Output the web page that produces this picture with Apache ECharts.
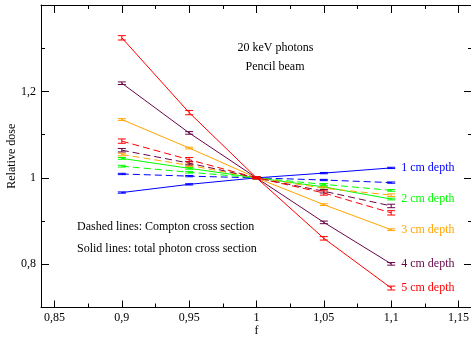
<!DOCTYPE html>
<html><head><meta charset="utf-8">
<script src="https://cdn.jsdelivr.net/npm/echarts@6/dist/echarts.min.js"></script>
<style>html,body{margin:0;padding:0;background:#fff}#c{width:471px;height:337px}</style>
</head><body><div id="c"></div>
<script>
const f = [0.9, 0.95, 1.0, 1.05, 1.1];
const depths = ['1 cm depth', '2 cm depth', '3 cm depth', '4 cm depth', '5 cm depth'];
const colors = ['#0000ff', '#00ff00', '#ffa500', '#670748', '#ff0000'];
// solid lines: total photon cross section
const totalDose = [
  [0.966, 0.985, 1.0, 1.011, 1.023],
  [1.045, 1.022, 1.0, 0.979, 0.951],
  [1.135, 1.069, 1.0, 0.938, 0.880],
  [1.219, 1.104, 1.0, 0.897, 0.801],
  [1.324, 1.151, 1.0, 0.860, 0.745]
];
const totalErr = [
  [0.0015, 0.0015, 0.0015, 0.0015, 0.0015],
  [0.002, 0.002, 0.002, 0.002, 0.002],
  [0.002, 0.002, 0.002, 0.002, 0.002],
  [0.003, 0.003, 0.002, 0.003, 0.003],
  [0.005, 0.005, 0.002, 0.004, 0.0045]
];
// dashed lines: Compton cross section
const comptonDose = [
  [1.009, 1.004, 1.0, 0.995, 0.989],
  [1.027, 1.013, 1.0, 0.985, 0.971],
  [1.054, 1.029, 1.0, 0.976, 0.960],
  [1.064, 1.034, 1.0, 0.969, 0.935],
  [1.085, 1.042, 1.0, 0.965, 0.919]
];
const comptonErr = [
  [0.0015, 0.0015, 0.0015, 0.0015, 0.0015],
  [0.002, 0.002, 0.002, 0.002, 0.002],
  [0.003, 0.003, 0.002, 0.003, 0.003],
  [0.004, 0.004, 0.002, 0.004, 0.004],
  [0.005, 0.005, 0.002, 0.005, 0.005]
];
const xTicks = [0.85, 0.9, 0.95, 1, 1.05, 1.1, 1.15];
const xMinor = [0.875, 0.925, 0.975, 1.025, 1.075, 1.125];
const yTicks = [0.8, 1.0, 1.2];
const yMinor = [0.7, 0.9, 1.1, 1.3];

const FONT = '"Liberation Serif", "DejaVu Serif", serif';
const fmt = v => String(+(+v).toFixed(3)).replace('.', ',');
const axisLine = {show: true, lineStyle: {color: '#000', width: 1}};

function xAx(pos, ticks, len, labels, extra) {
  return Object.assign({
    type: 'value', position: pos, min: 0.84, max: 1.16,
    axisLine: labels === null ? {show: false} : axisLine,
    axisTick: {show: true, inside: true, length: len, customValues: ticks, lineStyle: {color: '#000'}},
    axisLabel: labels ? {show: true, customValues: labels, formatter: fmt, margin: 4,
      color: '#000', fontFamily: FONT, fontSize: 12} : {show: false},
    splitLine: {show: false}
  }, extra || {});
}
function yAx(pos, ticks, len, labels, extra) {
  return Object.assign({
    type: 'value', position: pos, min: 0.7, max: 1.4,
    axisLine: labels === null ? {show: false} : axisLine,
    axisTick: {show: true, inside: true, length: len, customValues: ticks, lineStyle: {color: '#000'}},
    axisLabel: labels ? {show: true, customValues: labels, formatter: fmt, margin: 5,
      color: '#000', fontFamily: FONT, fontSize: 12} : {show: false},
    splitLine: {show: false}
  }, extra || {});
}

function errSeries(vals, errs, color, z) {
  return {
    type: 'custom', xAxisIndex: 0, yAxisIndex: 0, z: z, silent: true, animation: false,
    encode: {x: 0, y: [1, 2]},
    data: f.map((x, i) => [x, vals[i] - errs[i], vals[i] + errs[i]]),
    renderItem: (params, api) => {
      const lo = api.coord([api.value(0), api.value(1)]);
      const hi = api.coord([api.value(0), api.value(2)]);
      const w = 4;
      const st = {stroke: color, lineWidth: 1};
      return {type: 'group', children: [
        {type: 'line', shape: {x1: lo[0], y1: lo[1], x2: hi[0], y2: hi[1]}, style: st},
        {type: 'line', shape: {x1: lo[0] - w, y1: lo[1], x2: lo[0] + w, y2: lo[1]}, style: st},
        {type: 'line', shape: {x1: hi[0] - w, y1: hi[1], x2: hi[0] + w, y2: hi[1]}, style: st}
      ]};
    }
  };
}

const series = [];
for (let i = 0; i < 5; i++) {
  series.push({
    type: 'line', name: depths[i] + ' Compton', xAxisIndex: 0, yAxisIndex: 0,
    data: f.map((x, j) => [x, comptonDose[i][j]]), symbol: 'none', z: 2 + i,
    lineStyle: {color: colors[i], width: 1, type: [7, 4]}, animation: false
  });
  series.push(errSeries(comptonDose[i], comptonErr[i], colors[i], 2 + i));
  series.push({
    type: 'line', name: depths[i], xAxisIndex: 0, yAxisIndex: 0,
    data: f.map((x, j) => [x, totalDose[i][j]]), symbol: 'none', z: 2 + i,
    lineStyle: {color: colors[i], width: 1}, animation: false,
    endLabel: {show: true, formatter: depths[i], color: colors[i], distance: 10,
      fontFamily: FONT, fontSize: 12}
  });
  series.push(errSeries(totalDose[i], totalErr[i], colors[i], 2 + i));
}

const chart = echarts.init(document.getElementById('c'));
chart.setOption({
  animation: false,
  backgroundColor: '#fff',
  grid: {left: 41, top: 5, width: 431, bottom: 29.5, containLabel: false, outerBoundsMode: 'none'},
  xAxis: [
    xAx('bottom', xTicks, 7, xTicks, {name: 'f', nameLocation: 'middle', nameGap: 17, nameMoveOverlap: false,
      nameTextStyle: {color: '#000', fontFamily: FONT, fontSize: 12}}),
    xAx('bottom', xMinor, 4, null),
    xAx('top', xTicks, 8, false),
    xAx('top', xMinor, 4, null)
  ],
  yAxis: [
    yAx('left', yTicks, 8, yTicks, {name: 'Relative dose', nameLocation: 'middle', nameGap: 23, nameMoveOverlap: false,
      nameTextStyle: {color: '#000', fontFamily: FONT, fontSize: 12}}),
    yAx('left', yMinor, 4, null),
    yAx('right', yTicks, 8, false),
    yAx('right', yMinor, 4, null)
  ],
  series: series,
  graphic: [
    {type: 'text', x: 275.5, y: 48, style: {text: '20 keV photons', align: 'center', verticalAlign: 'middle',
      fill: '#000', font: '12px ' + FONT}},
    {type: 'text', x: 275, y: 67, style: {text: 'Pencil beam', align: 'center', verticalAlign: 'middle',
      fill: '#000', font: '12px ' + FONT}},
    {type: 'text', x: 77, y: 227, style: {text: 'Dashed lines: Compton cross section', align: 'left', verticalAlign: 'middle',
      fill: '#000', font: '12px ' + FONT}},
    {type: 'text', x: 77, y: 249, style: {text: 'Solid lines: total photon cross section', align: 'left', verticalAlign: 'middle',
      fill: '#000', font: '12px ' + FONT}}
  ]
});
</script></body></html>
